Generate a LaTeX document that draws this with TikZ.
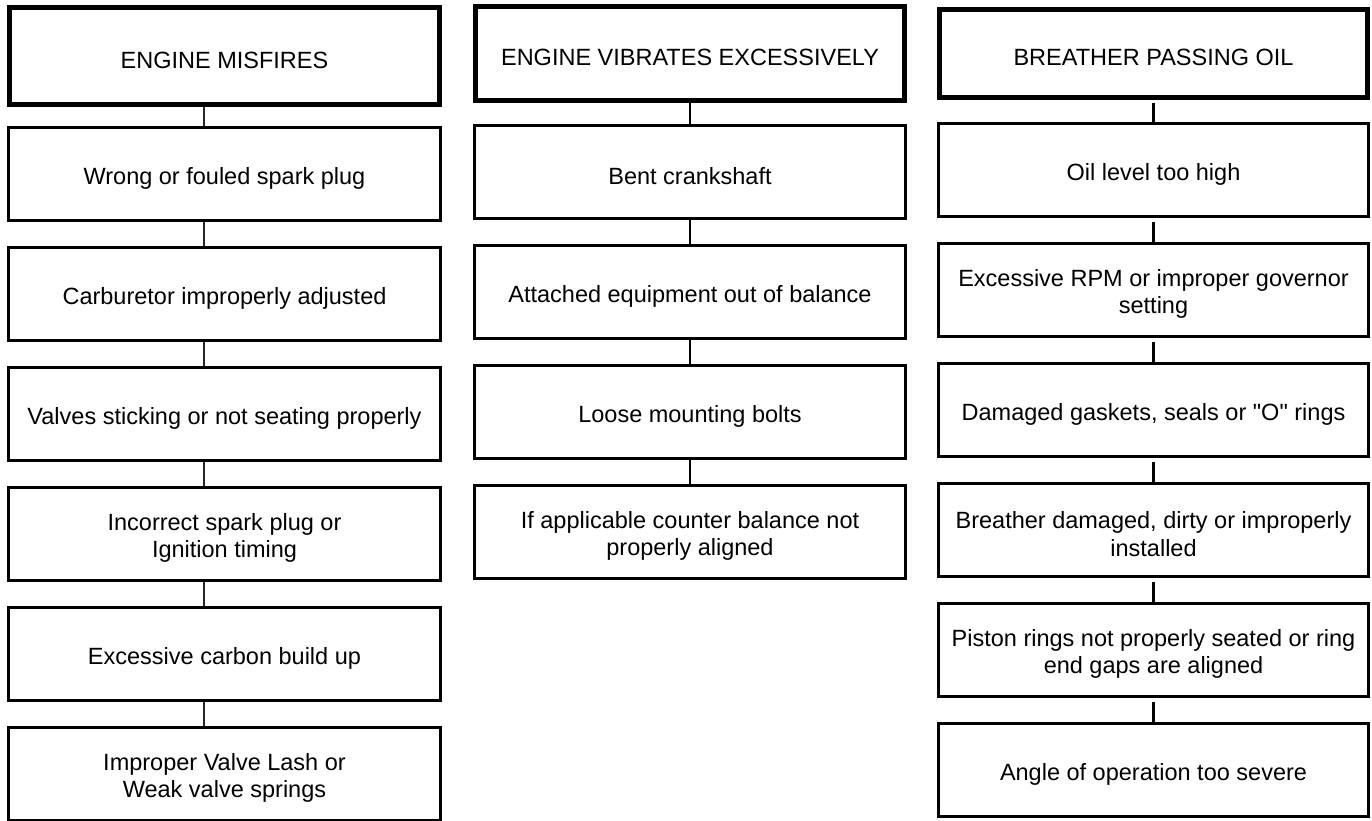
\documentclass[tikz,border=0pt]{standalone}
\usepackage{fontspec}
\setmainfont{Liberation Sans}[Ligatures=TeXOff]
\begin{document}
\begin{tikzpicture}[x=1pt,y=-1pt,
  hdr/.style={draw=black,line width=5pt,rectangle,inner sep=0pt},
  cbox/.style={draw=black,line width=3pt,rectangle,inner sep=0pt,minimum height=93pt},
  txt/.style={font=\fontsize{23.5}{27.5}\selectfont,align=center,inner sep=0pt,text=black},
  lkA/.style={line width=2pt,draw=black!85},
  lkB/.style={line width=2.5pt,draw=black},
  lkC/.style={line width=3pt,draw=black}]
\useasboundingbox (0,0) rectangle (1372,820);
\clip (0,0) rectangle (1372,820);
% ---------- column 1 ----------
\node[hdr,minimum width=430pt,minimum height=97pt] (h1) at (224.5,56) {};
\node[txt] (h1t) at ([yshift=-4pt]h1.center) {ENGINE MISFIRES};
\node[cbox,minimum width=432pt] (a1) at (224.5,174) {};
\node[txt] (a1t) at ([yshift=-4pt]a1.center) {Wrong or fouled spark plug};
\node[cbox,minimum width=432pt] (a2) at (224.5,294) {};
\node[txt] (a2t) at ([yshift=-4pt]a2.center) {Carburetor improperly adjusted};
\node[cbox,minimum width=432pt] (a3) at (224.5,414) {};
\node[txt] (a3t) at ([yshift=-4pt]a3.center) {Valves sticking or not seating properly};
\node[cbox,minimum width=432pt] (a4) at (224.5,534) {};
\node[txt] (a4t) at ([yshift=-4pt]a4.center) {Incorrect spark plug or\\Ignition timing};
\node[cbox,minimum width=432pt] (a5) at (224.5,654) {};
\node[txt] (a5t) at ([yshift=-4pt]a5.center) {Excessive carbon build up};
\node[cbox,minimum width=432pt] (a6) at (224.5,774) {};
\node[txt] (a6t) at ([yshift=-4pt]a6.center) {Improper Valve Lash or\\Weak valve springs};
\coordinate (k1) at (204,0);
\draw[lkA] (k1 |- h1.south) -- (k1 |- a1.north);
\draw[lkA] (k1 |- a1.south) -- (k1 |- a2.north);
\draw[lkA] (k1 |- a2.south) -- (k1 |- a3.north);
\draw[lkA] (k1 |- a3.south) -- (k1 |- a4.north);
\draw[lkA] (k1 |- a4.south) -- (k1 |- a5.north);
\draw[lkA] (k1 |- a5.south) -- (k1 |- a6.north);
% ---------- column 2 ----------
\node[hdr,minimum width=429pt,minimum height=94pt] (h2) at (690,53.5) {};
\node[txt] (h2t) at ([yshift=-4pt]h2.center) {ENGINE VIBRATES EXCESSIVELY};
\node[cbox,minimum width=431pt] (b1) at (690,172) {};
\node[txt] (b1t) at ([yshift=-4pt]b1.center) {Bent crankshaft};
\node[cbox,minimum width=431pt] (b2) at (690,292) {};
\node[txt] (b2t) at ([yshift=-4pt]b2.center) {Attached equipment out of balance};
\node[cbox,minimum width=431pt] (b3) at (690,412) {};
\node[txt] (b3t) at ([yshift=-4pt]b3.center) {Loose mounting bolts};
\node[cbox,minimum width=431pt] (b4) at (690,532) {};
\node[txt] (b4t) at ([yshift=-4pt]b4.center) {If applicable counter balance not\\properly aligned};
\draw[lkB] (h2.south) -- (b1.north);
\draw[lkB] (b1.south) -- (b2.north);
\draw[lkB] (b2.south) -- (b3.north);
\draw[lkB] (b3.south) -- (b4.north);
% ---------- column 3 ----------
\node[hdr,minimum width=428pt,minimum height=88.5pt] (h3) at (1153.5,53.5) {};
\node[txt] (h3t) at ([yshift=-4pt]h3.center) {BREATHER PASSING OIL};
\node[cbox,minimum width=430pt] (c1) at (1153.5,170) {};
\node[txt] (c1t) at ([yshift=-4pt]c1.center) {Oil level too high};
\node[cbox,minimum width=430pt] (c2) at (1153.5,290) {};
\node[txt] (c2t) at ([yshift=-4pt]c2.center) {Excessive RPM or improper governor\\setting};
\node[cbox,minimum width=430pt] (c3) at (1153.5,410) {};
\node[txt] (c3t) at ([yshift=-4pt]c3.center) {Damaged gaskets, seals or "O" rings};
\node[cbox,minimum width=430pt] (c4) at (1153.5,530) {};
\node[txt] (c4t) at ([yshift=-4pt]c4.center) {Breather damaged, dirty or improperly\\installed};
\node[cbox,minimum width=430pt] (c5) at (1153.5,650) {};
\node[txt] (c5t) at ([yshift=-4pt]c5.center) {Piston rings not properly seated or ring\\end gaps are aligned};
\node[cbox,minimum width=430pt] (c6) at (1153.5,770) {};
\node[txt] (c6t) at ([yshift=-4pt]c6.center) {Angle of operation too severe};
\draw[lkC] ([yshift=-3pt]h3.south) -- ([yshift=-3pt]c1.north);
\draw[lkC] ([yshift=-4pt]c1.south) -- ([yshift=-3pt]c2.north);
\draw[lkC] ([yshift=-4pt]c2.south) -- ([yshift=-3pt]c3.north);
\draw[lkC] ([yshift=-4pt]c3.south) -- ([yshift=-3pt]c4.north);
\draw[lkC] ([yshift=-4pt]c4.south) -- ([yshift=-3pt]c5.north);
\draw[lkC] ([yshift=-4pt]c5.south) -- ([yshift=-3pt]c6.north);
\end{tikzpicture}
\end{document}
